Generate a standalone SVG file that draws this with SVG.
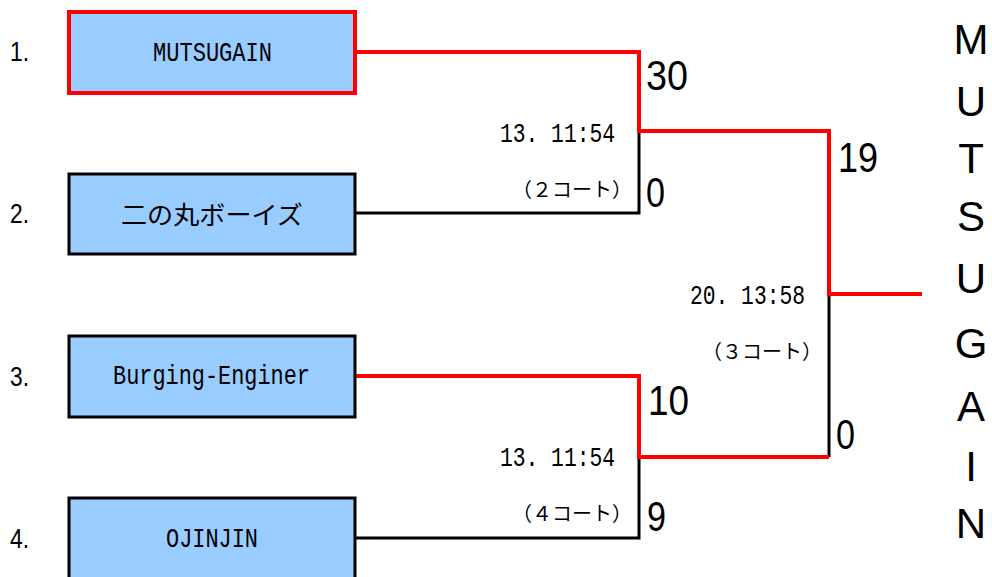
<svg xmlns="http://www.w3.org/2000/svg" width="992" height="577" viewBox="0 0 992 577">
<style>
.box{fill:#99ccff;stroke:#000;stroke-width:3}
.win{stroke:#ff0000;stroke-width:4}
.name{font-family:"Liberation Mono",monospace;font-size:28px;fill:#000}
.jname{font-family:"Noto Sans CJK JP",sans-serif;font-size:25px;fill:#000}
.seed{font-family:"Liberation Sans",sans-serif;font-size:27px;fill:#000}
.time{font-family:"Liberation Mono",monospace;font-size:27px;fill:#000}
.court{font-family:"Noto Sans CJK JP",sans-serif;font-size:20px;fill:#000}
.score{font-family:"Liberation Sans",sans-serif;font-size:42px;fill:#000}
.champ{font-family:"Liberation Sans",sans-serif;font-size:42px;fill:#000;text-anchor:middle}
.lr{fill:none;stroke:#ff0000;stroke-width:4}
.lb{fill:none;stroke:#000;stroke-width:3}
</style>
<rect width="992" height="577" fill="#fff"/>
<g id="connectors">
<path class="lb" d="M355,213 H639 V131"/>
<path class="lb" d="M829,457 V294"/>
<path class="lb" d="M355,538 H639 V457"/>
<path class="lr" d="M355,52 H639 V131 H829 V294 H922"/>
<path class="lr" d="M355,376 H639 V457 H829"/>
</g>
<g id="team1">
<text class="seed" x="10" y="61" textLength="19" lengthAdjust="spacingAndGlyphs">1.</text>
<rect class="box win" x="69" y="12" width="286" height="81"/>
<text class="name" x="153" y="61" textLength="119" lengthAdjust="spacingAndGlyphs">MUTSUGAIN</text>
</g>
<g id="team2">
<text class="seed" x="10" y="223" textLength="19" lengthAdjust="spacingAndGlyphs">2.</text>
<rect class="box" x="69" y="174" width="286" height="80"/>
<text class="jname" x="121" y="224" textLength="182" lengthAdjust="spacingAndGlyphs">二の丸ボーイズ</text>
</g>
<g id="team3">
<text class="seed" x="10" y="386" textLength="19" lengthAdjust="spacingAndGlyphs">3.</text>
<rect class="box" x="69" y="336" width="286" height="81"/>
<text class="name" x="113" y="384" textLength="197" lengthAdjust="spacingAndGlyphs">Burging-Enginer</text>
</g>
<g id="team4">
<text class="seed" x="10" y="548" textLength="19" lengthAdjust="spacingAndGlyphs">4.</text>
<rect class="box" x="69" y="498" width="286" height="90"/>
<text class="name" x="166" y="547" textLength="92" lengthAdjust="spacingAndGlyphs">OJINJIN</text>
</g>
<g id="match1">
<text class="time" x="500" y="142" textLength="115" lengthAdjust="spacingAndGlyphs">13. 11:54</text>
<text class="court" x="512" y="197" textLength="120" lengthAdjust="spacingAndGlyphs">（２コート）</text>
<text class="score" x="646" y="90" textLength="42" lengthAdjust="spacingAndGlyphs">30</text>
<text class="score" x="646" y="207" textLength="19" lengthAdjust="spacingAndGlyphs">0</text>
</g>
<g id="match2">
<text class="time" x="500" y="466" textLength="115" lengthAdjust="spacingAndGlyphs">13. 11:54</text>
<text class="court" x="512" y="521" textLength="120" lengthAdjust="spacingAndGlyphs">（４コート）</text>
<text class="score" x="648" y="415" textLength="41" lengthAdjust="spacingAndGlyphs">10</text>
<text class="score" x="647" y="531" textLength="19" lengthAdjust="spacingAndGlyphs">9</text>
</g>
<g id="final">
<text class="time" x="690" y="304" textLength="115" lengthAdjust="spacingAndGlyphs">20. 13:58</text>
<text class="court" x="702" y="359" textLength="120" lengthAdjust="spacingAndGlyphs">（３コート）</text>
<text class="score" x="838" y="172" textLength="40" lengthAdjust="spacingAndGlyphs">19</text>
<text class="score" x="836" y="449" textLength="19" lengthAdjust="spacingAndGlyphs">0</text>
</g>
<g id="champion">
<text class="champ" x="971" y="54">M</text>
<text class="champ" x="971" y="116">U</text>
<text class="champ" x="971" y="173">T</text>
<text class="champ" x="971" y="231">S</text>
<text class="champ" x="971" y="293">U</text>
<text class="champ" x="971" y="358">G</text>
<text class="champ" x="971" y="421">A</text>
<text class="champ" x="971" y="481">I</text>
<text class="champ" x="971" y="538">N</text>
</g>
</svg>
